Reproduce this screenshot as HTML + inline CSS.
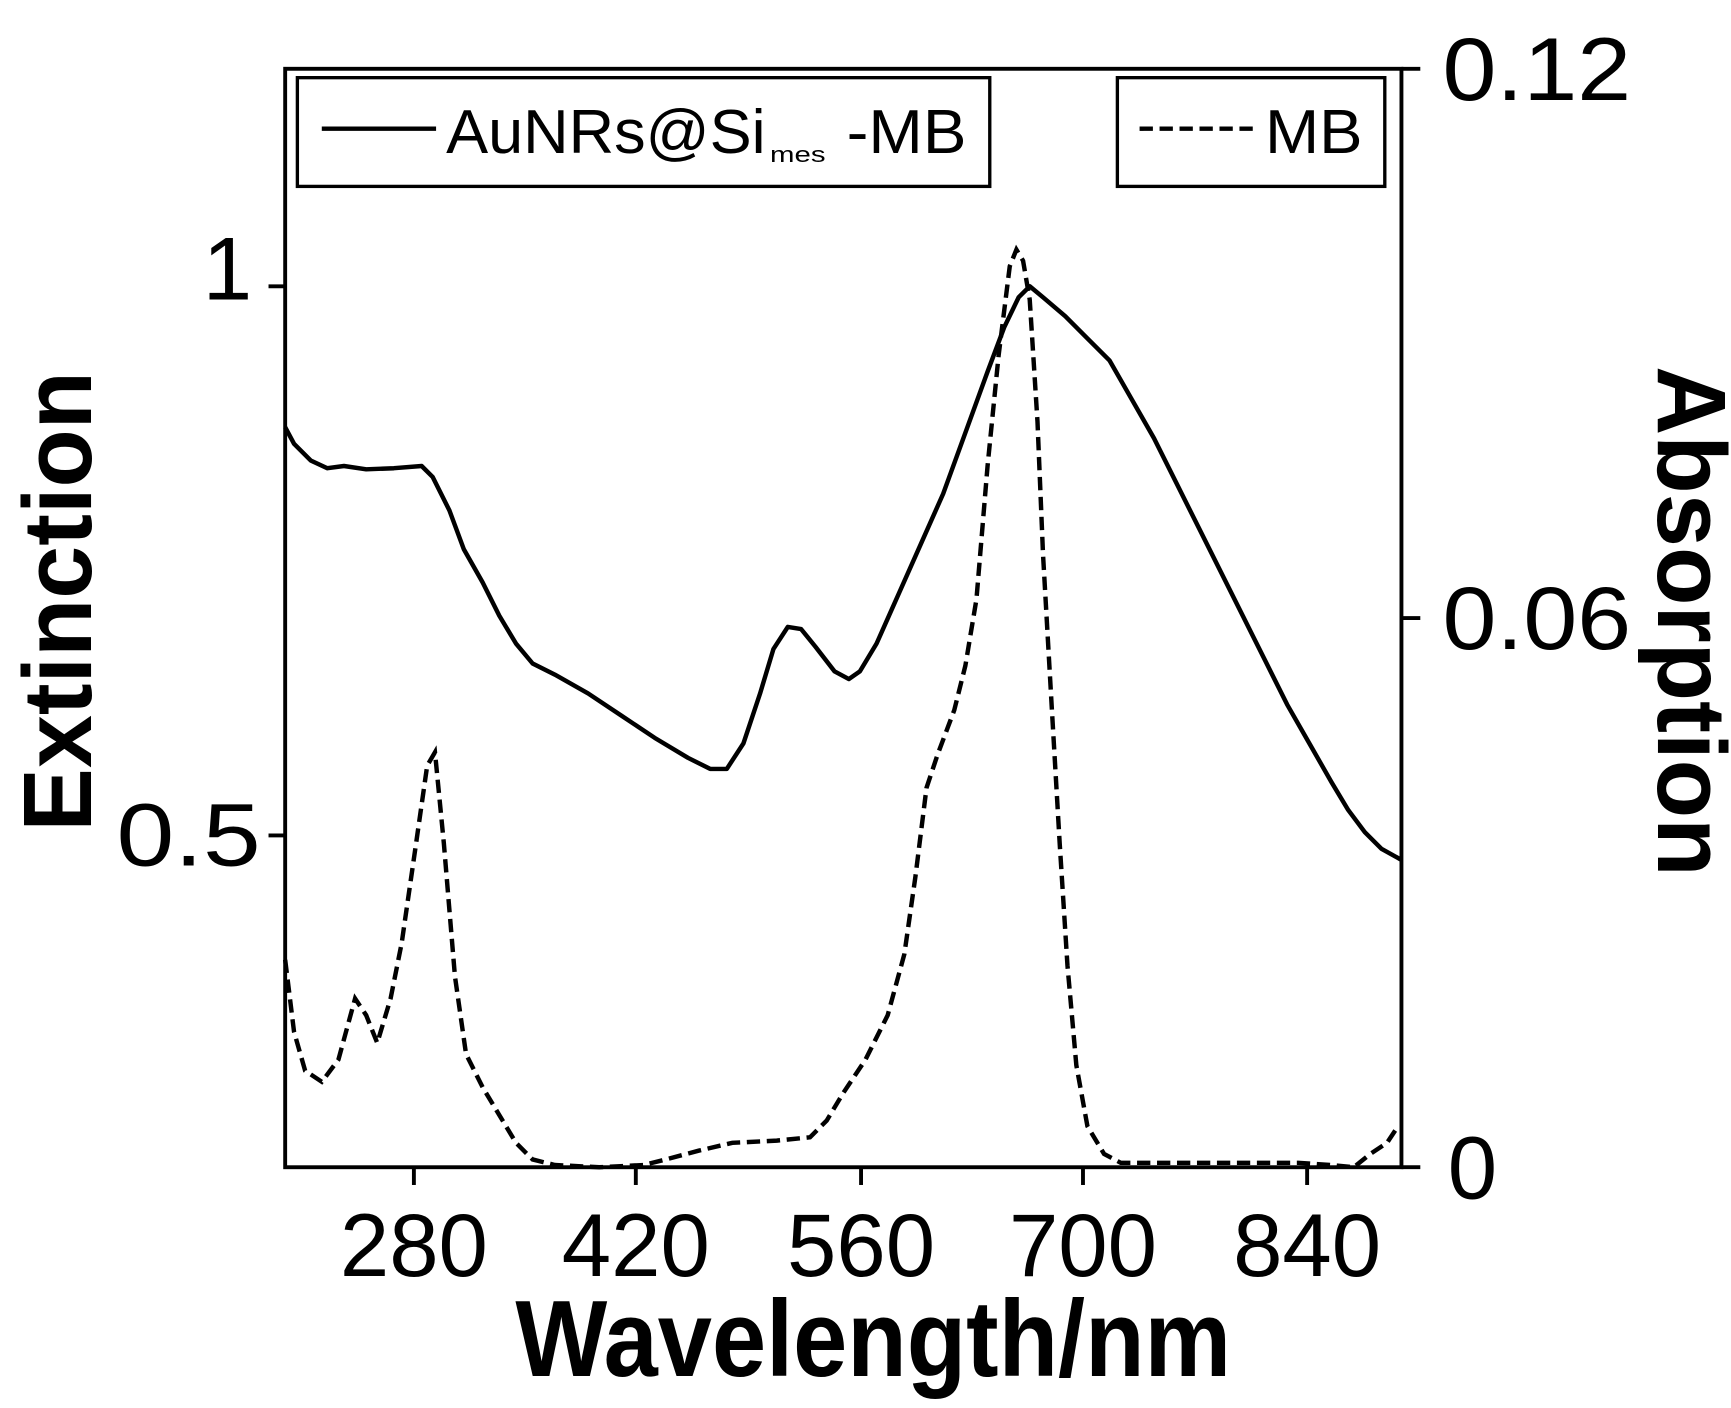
<!DOCTYPE html>
<html><head><meta charset="utf-8"><style>html,body{margin:0;padding:0;background:#fff}svg{display:block}</style></head>
<body>
<svg width="1731" height="1408" viewBox="0 0 1560 1269" preserveAspectRatio="none" xmlns="http://www.w3.org/2000/svg" font-family="Liberation Sans, Arial, sans-serif">
<rect width="1560" height="1269" fill="#fff"/>
<rect x="257" y="62" width="1006" height="990" fill="none" stroke="#000" stroke-width="3.5"/>
<g stroke="#000" stroke-width="3.5">
<line x1="373" y1="1052" x2="373" y2="1068"/><line x1="573" y1="1052" x2="573" y2="1068"/><line x1="776" y1="1052" x2="776" y2="1068"/><line x1="976" y1="1052" x2="976" y2="1068"/><line x1="1178" y1="1052" x2="1178" y2="1068"/>
<line x1="1263" y1="62" x2="1280" y2="62"/><line x1="1263" y1="557" x2="1280" y2="557"/><line x1="1263" y1="1052" x2="1280" y2="1052"/>
<line x1="257" y1="258" x2="242" y2="258"/><line x1="257" y1="753" x2="242" y2="753"/>
</g>
<g font-size="80" text-anchor="middle">
<text x="373" y="1150">280</text><text x="573" y="1150">420</text><text x="776" y="1150">560</text><text x="976" y="1150">700</text><text x="1178" y="1150">840</text>
<text x="1385" y="90" textLength="170" lengthAdjust="spacingAndGlyphs">0.12</text>
<text x="1385" y="585" textLength="170" lengthAdjust="spacingAndGlyphs">0.06</text>
<text x="1327" y="1080">0</text>
<text x="205" y="270">1</text>
<text x="170" y="780" textLength="130" lengthAdjust="spacingAndGlyphs">0.5</text>
</g>
<text x="787" y="1240" font-size="98" font-weight="bold" text-anchor="middle" textLength="645" lengthAdjust="spacingAndGlyphs">Wavelength/nm</text>
<text transform="translate(82,542) rotate(-90)" font-size="88" font-weight="bold" text-anchor="middle" textLength="415" lengthAdjust="spacingAndGlyphs">Extinction</text>
<text transform="translate(1494,560) rotate(90)" font-size="88" font-weight="bold" text-anchor="middle" textLength="460" lengthAdjust="spacingAndGlyphs">Absorption</text>
<rect x="268" y="70" width="624" height="98" fill="none" stroke="#000" stroke-width="3"/>
<line x1="290" y1="116" x2="393" y2="116" stroke="#000" stroke-width="4"/>
<text x="402" y="138" font-size="56" textLength="288" lengthAdjust="spacingAndGlyphs">AuNRs@Si</text>
<text x="694" y="146" font-size="20" textLength="50" lengthAdjust="spacingAndGlyphs">mes</text>
<text x="763" y="138" font-size="56" textLength="108" lengthAdjust="spacingAndGlyphs">-MB</text>
<rect x="1007" y="70" width="241" height="98" fill="none" stroke="#000" stroke-width="3"/>
<line x1="1027" y1="116" x2="1132" y2="116" stroke="#000" stroke-width="4" stroke-dasharray="12,6"/>
<text x="1140" y="138" font-size="56" textLength="88" lengthAdjust="spacingAndGlyphs">MB</text>
<polyline fill="none" stroke="#000" stroke-width="4" stroke-linejoin="round" points="257,385 265,400 280,415 295,422 310,420 330,423 355,422 380,420 390,430 405,460 418,495 435,525 450,555 465,580 480,598 500,608 530,625 560,645 590,665 620,683 640,693 655,693 670,670 685,625 697,585 710,565 722,567 735,583 752,605 765,612 775,605 790,580 810,535 830,490 850,445 870,390 890,335 905,295 918,268 928,258 940,268 960,285 980,305 1000,325 1020,360 1040,395 1060,435 1080,475 1100,515 1120,555 1140,595 1160,635 1180,670 1200,705 1215,730 1230,750 1245,765 1263,775"/>
<polyline fill="none" stroke="#000" stroke-width="4" stroke-dasharray="12,6" points="257,865 265,930 275,965 290,975 305,955 320,900 330,915 340,940 352,900 362,850 375,760 385,690 392,678 400,760 410,880 420,950 435,980 450,1005 465,1030 480,1045 500,1050 540,1052 580,1050 600,1045 630,1037 660,1030 700,1028 730,1025 745,1010 760,985 780,955 800,915 815,860 825,790 835,710 845,680 860,640 870,600 880,540 890,420 900,320 910,240 916,225 922,235 928,270 935,380 940,500 948,640 955,760 962,870 970,960 980,1015 995,1040 1010,1048 1050,1048 1100,1048 1170,1048 1200,1050 1220,1052 1235,1040 1250,1030 1260,1015"/>
</svg>
</body></html>
